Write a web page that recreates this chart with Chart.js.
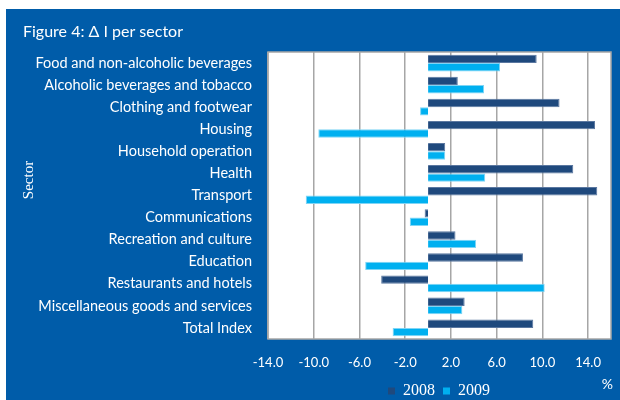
<!DOCTYPE html>
<html>
<head>
<meta charset="utf-8">
<title>Figure 4: Δ I per sector</title>
<script src="https://cdn.jsdelivr.net/npm/chart.js@4.4.0/dist/chart.umd.min.js"></script>
<style>
  html, body { margin: 0; padding: 0; background: #fff; }
  canvas { display: block; }
</style>
</head>
<body>
<canvas id="sectorChart" width="620" height="400"></canvas>
<script>
// data
const sectors = [
    'Food and non-alcoholic beverages',
    'Alcoholic beverages and tobacco',
    'Clothing and footwear',
    'Housing',
    'Household operation',
    'Health',
    'Transport',
    'Communications',
    'Recreation and culture',
    'Education',
    'Restaurants and hotels',
    'Miscellaneous goods and services',
    'Total Index'
];
const values2008 = [9.5, 2.6, 11.5, 14.6, 1.5, 12.7, 14.8, -0.3, 2.4, 8.3, -4.1, 3.2, 9.2];
const values2009 = [6.3, 4.9, -0.7, -9.6, 1.5, 5.0, -10.7, -1.6, 4.2, -5.5, 10.2, 3.0, -3.1];
const xTicks = [-14, -10, -6, -2, 2, 6, 10, 14];
const xMin = -14;
const xMax = 16;

const BG = '#005CA9';
const PLOT_BOTTOM = 339;
const SERIF = "'Liberation Serif', 'Times New Roman', serif";

Chart.defaults.font.family = 'Lato';

// blue frame, white plot area, title and free texts
const frame = {
    id: 'frame',
    beforeDraw(chart) {
        const ctx = chart.ctx;
        const a = chart.chartArea;
        ctx.save();
        ctx.fillStyle = '#fff';
        ctx.fillRect(0, 0, chart.width, chart.height);
        ctx.fillStyle = BG;
        ctx.fillRect(6, 9, chart.width - 6, chart.height - 9);
        ctx.fillStyle = '#fff';
        ctx.fillRect(a.left, a.top, a.right - a.left, a.bottom - a.top);

        ctx.fillStyle = '#fff';
        ctx.textBaseline = 'alphabetic';
        ctx.font = '16px Lato';
        ctx.fillText('Figure 4: Δ I per sector', 23, 37);

        ctx.textAlign = 'right';
        ctx.font = '14px Lato';
        ctx.fillText('%', 613, 389);

        ctx.translate(33, 180);
        ctx.rotate(-Math.PI / 2);
        ctx.textAlign = 'center';
        ctx.font = '15px ' + SERIF;
        ctx.fillText('Sector', 0, 0);
        ctx.restore();
    },
    beforeDatasetsDraw(chart) {
        const ctx = chart.ctx;
        const a = chart.chartArea;
        ctx.save();
        ctx.strokeStyle = '#a6a6a6';
        ctx.lineWidth = 1.5;
        ctx.strokeRect(a.left, a.top, a.right - a.left, a.bottom - a.top);
        ctx.restore();
    },
    // legend sits under the plot, next to the "%" label
    afterLayout(chart) {
        const lg = chart.legend;
        if (!lg) return;
        lg.left = 275;
        lg.right = 603;
        lg.width = lg.right - lg.left;
        lg.top = 383 - lg.options.labels.padding;
        lg.bottom = chart.height;
        lg.height = lg.bottom - lg.top;
    }
};

const ctx = document.getElementById('sectorChart').getContext('2d');
new Chart(ctx, {
    type: 'bar',
    data: {
        labels: sectors,
        datasets: [
            {
                label: '2008',
                data: values2008,
                backgroundColor: '#1F497D',
                borderColor: '#5a77a0',
                borderWidth: 1,
                barPercentage: 1,
                categoryPercentage: 0.76
            },
            {
                label: '2009',
                data: values2009,
                backgroundColor: '#00B0F0',
                borderColor: '#7fd5f5',
                borderWidth: 1,
                barPercentage: 1,
                categoryPercentage: 0.76
            }
        ]
    },
    options: {
        responsive: false,
        animation: false,
        indexAxis: 'y',
        layout: { padding: { top: 52, right: 9, left: 0, bottom: 0 } },
        plugins: {
            tooltip: { enabled: false },
            legend: {
                position: 'bottom',
                maxHeight: 21,
                labels: {
                    color: '#fff',
                    boxWidth: 7,
                    boxHeight: 7,
                    padding: 8,
                    font: { family: SERIF, size: 16 },
                    generateLabels: chart => {
                        const items = Chart.defaults.plugins.legend.labels.generateLabels(chart);
                        items.forEach(it => { it.lineWidth = 0; it.strokeStyle = it.fillStyle; });
                        return items;
                    }
                }
            }
        },
        scales: {
            x: {
                min: xMin,
                max: xMax,
                afterBuildTicks: s => { s.ticks = xTicks.map(v => ({ value: v })); },
                afterFit: s => {
                    const lh = s.chart.legend ? s.chart.legend.height : 0;
                    s.height = s.chart.height - PLOT_BOTTOM - lh;
                },
                grid: { color: '#a6a6a6', lineWidth: 1.5, drawTicks: false },
                border: { display: false },
                ticks: {
                    color: '#fff',
                    font: { size: 13 },
                    padding: 16,
                    maxRotation: 0,
                    autoSkip: false,
                    callback: v => v.toFixed(1)
                }
            },
            y: {
                afterFit: s => { s.width = 268; },
                grid: { display: false, drawTicks: false },
                border: { display: false },
                ticks: {
                    color: '#fff',
                    font: { size: 14.5 },
                    padding: 16,
                    autoSkip: false
                }
            }
        }
    },
    plugins: [frame]
});
</script>
</body>
</html>
